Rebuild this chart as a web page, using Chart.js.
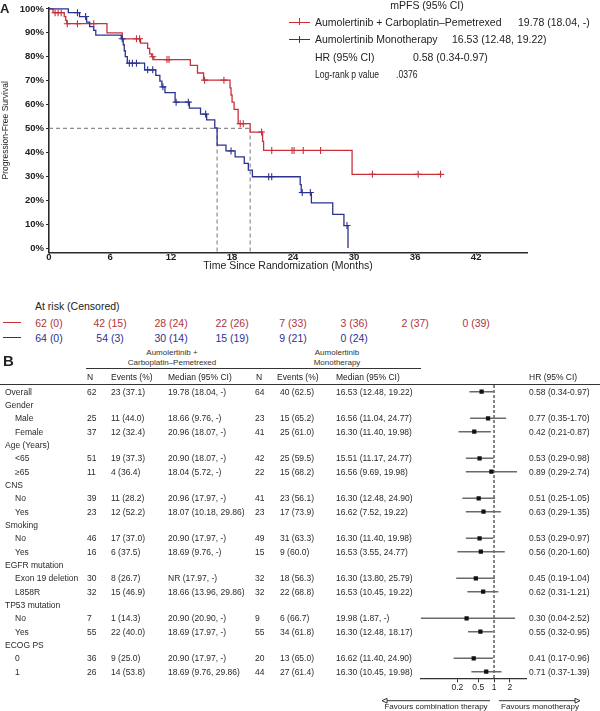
<!DOCTYPE html>
<html><head><meta charset="utf-8">
<script src="https://cdn.jsdelivr.net/npm/chart.js@4.4.1/dist/chart.umd.min.js"></script>
<style>
html,body{margin:0;padding:0;background:#fff;}
body{width:600px;height:711px;position:relative;overflow:hidden;font-family:"Liberation Sans",Arial,sans-serif;color:#222;}
.t{position:absolute;white-space:nowrap;line-height:1;transform:translateY(-50%);}
.c{transform:translate(-50%,-50%);}
#wa{position:absolute;left:0;top:0;width:600px;height:274px;}
#wb{position:absolute;left:0;top:380px;width:600px;height:331px;}
.hl{position:absolute;height:0;border-top:1.2px solid #333;}
.mk{position:absolute;width:21px;height:0;border-top:1.4px solid;}
.mk i{position:absolute;left:10px;top:-4.2px;height:7px;width:0;border-left:1.4px solid;}
</style></head><body>
<div id="wa"><canvas id="km"></canvas></div>
<div id="wb"><canvas id="fp"></canvas></div>
<div id="txt"></div>
<script>
// ---------- Panel A data ----------
const RED = '#c8313a', BLUE = '#2c3290';
const redTimes = [0, 0.4, 1.5, 1.65, 1.75, 5.7, 7.2, 9.0, 9.7, 9.9, 10.1, 10.3, 13.9, 14.6, 15.2, 17.8, 17.9, 18.0, 18.2, 18.6, 19.78, 21.0, 21.1, 29.8, 38.5];
const redSurv  = [100, 98.4, 96.8, 95.2, 93.8, 90.0, 87.5, 85.7, 83.5, 81.2, 80.0, 78.8, 76.4, 73.2, 70.2, 67.0, 64.0, 61.0, 58.0, 52.0, 48.5, 44.6, 40.8, 30.8, 30.8];
const redCensor = [0.6, 0.9, 1.2, 1.8, 2.8, 4.4, 8.6, 8.9, 10.2, 11.6, 11.8, 15.3, 17.2, 18.8, 19.1, 20.9, 21.9, 23.9, 24.1, 25.0, 26.7, 31.8, 36.3, 38.5];
const blueTimes = [0, 1.9, 3.0, 3.7, 4.0, 4.4, 4.6, 7.1, 7.3, 7.4, 7.5, 7.7, 9.4, 10.5, 10.9, 11.1, 11.4, 12.4, 13.8, 14.9, 15.5, 16.3, 16.53, 17.4, 18.3, 19.2, 19.6, 20.0, 24.7, 24.8, 25.8, 27.9, 29.0, 29.4];
const blueSurv  = [100, 98.4, 96.8, 94.5, 92.6, 91.0, 89.0, 87.5, 85.0, 82.5, 80.0, 77.3, 74.5, 72.2, 69.8, 67.4, 65.0, 61.0, 58.5, 56.0, 53.6, 50.2, 43.0, 40.6, 38.1, 35.4, 32.6, 29.8, 26.5, 23.2, 18.9, 14.1, 9.4, 0];
const blueCensor = [2.8, 3.6, 7.2, 7.9, 8.2, 8.6, 9.7, 10.2, 11.2, 12.5, 13.7, 15.4, 17.9, 21.6, 21.9, 24.9, 25.7, 29.3];
const medians = [19.78, 16.53];
const xTicks = [0, 6, 12, 18, 24, 30, 36, 42];
const yTicks = [0, 10, 20, 30, 40, 50, 60, 70, 80, 90, 100];
const legendLabels = ['Aumolertinib + Carboplatin\u2013Pemetrexed', 'Aumolertinib Monotherapy'];
const legendMedians = ['19.78 (18.04, -)', '16.53 (12.48, 19.22)'];
const hrOverallText = '0.58 (0.34-0.97)';
const pValueText = '.0376';
const riskRed = [62, 42, 28, 22, 7, 3, 2, 0];
const censRed = [0, 15, 24, 26, 33, 36, 37, 39];
const riskBlue = [64, 54, 30, 15, 9, 0];
const censBlue = [0, 3, 14, 19, 21, 24];

// ---------- Panel B data ----------
const rowLabels = ['Overall','Gender','Male','Female','Age (Years)','<65','\u226565','CNS','No','Yes','Smoking','No','Yes','EGFR mutation','Exon 19 deletion','L858R','TP53 mutation','No','Yes','ECOG PS','0','1'];
const rowIndent = [0,0,1,1,0,1,1,0,1,1,0,1,1,0,1,1,0,1,1,0,1,1];
const comboN = [62,null,25,37,null,51,11,null,39,23,null,46,16,null,30,32,null,7,55,null,36,26];
const comboEv = ['23 (37.1)',null,'11 (44.0)','12 (32.4)',null,'19 (37.3)','4 (36.4)',null,'11 (28.2)','12 (52.2)',null,'17 (37.0)','6 (37.5)',null,'8 (26.7)','15 (46.9)',null,'1 (14.3)','22 (40.0)',null,'9 (25.0)','14 (53.8)'];
const comboMed = ['19.78 (18.04, -)',null,'18.66 (9.76, -)','20.96 (18.07, -)',null,'20.90 (18.07, -)','18.04 (5.72, -)',null,'20.96 (17.97, -)','18.07 (10.18, 29.86)',null,'20.90 (17.97, -)','18.69 (9.76, -)',null,'NR (17.97, -)','18.66 (13.96, 29.86)',null,'20.90 (20.90, -)','18.69 (17.97, -)',null,'20.90 (17.97, -)','18.69 (9.76, 29.86)'];
const monoN = [64,null,23,41,null,42,22,null,41,23,null,49,15,null,32,32,null,9,55,null,20,44];
const monoEv = ['40 (62.5)',null,'15 (65.2)','25 (61.0)',null,'25 (59.5)','15 (68.2)',null,'23 (56.1)','17 (73.9)',null,'31 (63.3)','9 (60.0)',null,'18 (56.3)','22 (68.8)',null,'6 (66.7)','34 (61.8)',null,'13 (65.0)','27 (61.4)'];
const monoMed = ['16.53 (12.48, 19.22)',null,'16.56 (11.04, 24.77)','16.30 (11.40, 19.98)',null,'15.51 (11.17, 24.77)','16.56 (9.69, 19.98)',null,'16.30 (12.48, 24.90)','16.62 (7.52, 19.22)',null,'16.30 (11.40, 19.98)','16.53 (3.55, 24.77)',null,'16.30 (13.80, 25.79)','16.53 (10.45, 19.22)',null,'19.98 (1.87, -)','16.30 (12.48, 18.17)',null,'16.62 (11.40, 24.90)','16.30 (10.45, 19.98)'];
const hr   = [0.58,null,0.77,0.42,null,0.53,0.89,null,0.51,0.63,null,0.53,0.56,null,0.45,0.62,null,0.30,0.55,null,0.41,0.71];
const hrLo = [0.34,null,0.35,0.21,null,0.29,0.29,null,0.25,0.29,null,0.29,0.20,null,0.19,0.31,null,0.04,0.32,null,0.17,0.37];
const hrHi = [0.97,null,1.70,0.87,null,0.98,2.74,null,1.05,1.35,null,0.97,1.60,null,1.04,1.21,null,2.52,0.95,null,0.96,1.39];
const fpTicks = [0.2, 0.5, 1, 2];

Chart.defaults.font.family = '"Liberation Sans", Arial, sans-serif';
Chart.defaults.color = '#222';

function kmPoints(times, surv){ return times.map((t,i)=>({x:t, y:surv[i]})); }
function stepAt(times, surv, t){ let v = surv[0]; for (let i=0;i<times.length;i++){ if (times[i] <= t) v = surv[i]; } return v; }
function censorPoints(ct, times, surv){ return ct.map(t=>({x:t, y:stepAt(times, surv, t)})); }

const Y_MIN = -2;
const dashStyle = {borderColor:'#8c8c8c', borderDash:[4,3], borderWidth:1.2, pointRadius:0, fill:false, order:5};

const km = new Chart(document.getElementById('km'), {
  type:'line',
  data:{datasets:[
    Object.assign({data:[{x:0,y:50},{x:medians[0],y:50}]}, dashStyle),
    Object.assign({data:[{x:medians[1],y:50},{x:medians[1],y:Y_MIN}]}, dashStyle),
    Object.assign({data:[{x:medians[0],y:50},{x:medians[0],y:Y_MIN}]}, dashStyle),
    {data:kmPoints(redTimes, redSurv), stepped:true, borderColor:RED, borderWidth:1.3, pointRadius:0, fill:false, order:3},
    {data:kmPoints(blueTimes, blueSurv), stepped:true, borderColor:BLUE, borderWidth:1.3, pointRadius:0, fill:false, order:2},
    {data:censorPoints(redCensor, redTimes, redSurv), showLine:false, pointStyle:'cross', pointRadius:3.5, borderColor:RED, borderWidth:1.1, order:1},
    {data:censorPoints(blueCensor, blueTimes, blueSurv), showLine:false, pointStyle:'cross', pointRadius:3.5, borderColor:BLUE, borderWidth:1.1, order:0}
  ]},
  options:{
    animation:false, responsive:true, maintainAspectRatio:false,
    layout:{padding:{top:6.8, right:73, left:0, bottom:0}},
    plugins:{legend:{display:false}, tooltip:{enabled:false}},
    elements:{line:{tension:0}},
    scales:{
      x:{type:'linear', min:0, max:47,
        afterBuildTicks:s=>{s.ticks = xTicks.map(v=>({value:v}));},
        afterFit:s=>{s.height = 21.2;},
        border:{color:'#2a2a2a', width:1.6},
        grid:{drawOnChartArea:false, tickLength:2, color:'#2a2a2a'},
        ticks:{font:{size:9.5, weight:'bold'}, color:'#222', padding:-3.5, maxRotation:0, autoSkip:false},
        title:{display:true, text:'Time Since Randomization (Months)', font:{size:10.5}, color:'#222', padding:{top:0, bottom:1.5}}
      },
      y:{type:'linear', min:Y_MIN, max:100.5,
        afterBuildTicks:s=>{s.ticks = yTicks.map(v=>({value:v}));},
        afterFit:s=>{s.width = 49;},
        border:{color:'#2a2a2a', width:1.6},
        grid:{drawOnChartArea:false, tickLength:3, color:'#2a2a2a'},
        ticks:{callback:v=>v+'%', font:{size:9.5, weight:'bold'}, color:'#222', padding:2, autoSkip:false},
        title:{display:true, text:'Progression-Free Survival', font:{size:8.5}, color:'#222', padding:{top:1, bottom:0}}
      }
    }
  }
});

// ---------- Forest plot ----------
const ciSets = [];
hr.forEach((h,i)=>{ if (h!==null) ciSets.push({data:[{x:hrLo[i],y:i},{x:hrHi[i],y:i}], borderColor:'#6a6a6a', borderWidth:1.5, pointRadius:0, fill:false, order:2}); });
const squares = [];
hr.forEach((h,i)=>{ if (h!==null) squares.push({x:h, y:i}); });

const arrowPlugin = {
  id:'arrows',
  afterDraw(c){
    const ctx = c.ctx, x1 = c.scales.x.getPixelForValue(1), y = c.chartArea.bottom + 22.4;
    ctx.save(); ctx.strokeStyle = '#333'; ctx.lineWidth = 1; ctx.fillStyle = '#fff';
    const head = (tip, dir)=>{ ctx.beginPath(); ctx.moveTo(tip, y); ctx.lineTo(tip - dir*5, y-2.4); ctx.lineTo(tip - dir*5, y+2.4); ctx.closePath(); ctx.fill(); ctx.stroke(); };
    ctx.beginPath(); ctx.moveTo(x1-4, y); ctx.lineTo(x1-107, y); ctx.stroke(); head(x1-112, -1);
    ctx.beginPath(); ctx.moveTo(x1+5, y); ctx.lineTo(x1+81, y); ctx.stroke(); head(x1+86, 1);
    ctx.restore();
  }
};

const fp = new Chart(document.getElementById('fp'), {
  type:'line',
  data:{datasets:[
    {data:[{x:1,y:-0.5},{x:1,y:21.5}], borderColor:'#333', borderDash:[3,2], borderWidth:1.2, pointRadius:0, fill:false, order:3},
    ...ciSets,
    {data:squares, showLine:false, pointStyle:'rect', pointRadius:3, backgroundColor:'#111', borderColor:'#111', borderWidth:0, order:0}
  ]},
  options:{
    animation:false, responsive:true, maintainAspectRatio:false,
    layout:{padding:{top:5, left:420.7, right:74, bottom:0}},
    plugins:{legend:{display:false}, tooltip:{enabled:false}},
    scales:{
      x:{type:'logarithmic', min:0.04, max:4.07,
        afterBuildTicks:s=>{s.ticks = fpTicks.map(v=>({value:v}));},
        afterFit:s=>{s.height = 32.7;},
        border:{color:'#333', width:1.2},
        grid:{drawOnChartArea:false, tickLength:4, color:'#333'},
        ticks:{callback:v=>String(v), font:{size:8.5}, color:'#222', padding:0, maxRotation:0, autoSkip:false}
      },
      y:{type:'linear', display:false, min:-0.5, max:21.5, reverse:true}
    }
  },
  plugins:[arrowPlugin]
});

// ---------- Text ----------
const txt = document.getElementById('txt');
function put(text, x, y, size, opts){
  opts = opts || {};
  const d = document.createElement('div');
  d.className = 't' + (opts.center ? ' c' : '');
  d.textContent = text;
  d.style.left = x + 'px'; d.style.top = y + 'px'; d.style.fontSize = size + 'px';
  if (opts.color) d.style.color = opts.color;
  if (opts.bold) d.style.fontWeight = 'bold';
  if (opts.narrow) { d.style.transformOrigin = '0 50%'; d.style.transform = 'translateY(-50%) scaleX(0.82)'; }
  txt.appendChild(d); return d;
}
function hline(x1, x2, y, w){ const d = document.createElement('div'); d.className='hl'; d.style.left=x1+'px'; d.style.width=(x2-x1)+'px'; d.style.top=y+'px'; if (w) d.style.borderTopWidth = w+'px'; txt.appendChild(d); }
function marker(x, y, color){ const d = document.createElement('div'); d.className='mk'; d.style.left=x+'px'; d.style.top=y+'px'; d.style.borderTopColor=color; const i=document.createElement('i'); i.style.borderLeftColor=color; d.appendChild(i); txt.appendChild(d); }

// Panel labels
put('A', 0, 8, 13, {bold:true});
put('B', 3, 360, 15, {bold:true});

// Legend
put('mPFS (95% CI)', 427, 5, 10.5, {center:true});
marker(289, 21.5, RED); marker(289, 38.8, BLUE);
put(legendLabels[0], 315, 21.7, 10.5);
put(legendMedians[0], 518, 21.7, 10.5);
put(legendLabels[1], 315, 39, 10.5);
put(legendMedians[1], 452, 39, 10.5);
put('HR (95% CI)', 315, 56.7, 10.5);
put(hrOverallText, 413, 56.7, 10.5);
put('Log-rank p value', 315, 74, 10.5, {narrow:true});
put(pValueText, 396, 74, 10.5, {narrow:true});

// At risk table, positioned on the KM x scale
put('At risk (Censored)', 35, 305.7, 10.5);
hline(3, 21, 322, 1.5); txt.lastChild.style.borderTopColor = RED;
hline(3, 21, 337, 1.5); txt.lastChild.style.borderTopColor = BLUE;
const xs = km.scales.x;
riskRed.forEach((n,i)=>put(n+' ('+censRed[i]+')', xs.getPixelForValue(xTicks[i]), 322.7, 10.5, {center:true, color:'#b0343a'}));
riskBlue.forEach((n,i)=>put(n+' ('+censBlue[i]+')', xs.getPixelForValue(xTicks[i]), 337.7, 10.5, {center:true, color:'#2e3192'}));

// Forest table
const FS = 8.5, TOP = 380;
put('Aumolertinib +', 172, 352.7, 8, {center:true, color:'#333'});
put('Carboplatin\u2013Pemetrexed', 172, 362.7, 8, {center:true, color:'#333'});
put('Aumolertinib', 337, 352.7, 8, {center:true, color:'#333'});
put('Monotherapy', 337, 362.7, 8, {center:true, color:'#333'});
hline(86, 421, 368, 1.3);
hline(0, 600, 384, 1.1);
const hy = 376.7;
put('N', 87, hy, FS); put('Events (%)', 111, hy, FS); put('Median (95% CI)', 168, hy, FS);
put('N', 256, hy, FS); put('Events (%)', 277, hy, FS); put('Median (95% CI)', 336, hy, FS);
put('HR (95% CI)', 529, hy, FS);
const ys = fp.scales.y;
rowLabels.forEach((lab,i)=>{
  const y = TOP + ys.getPixelForValue(i);
  put(lab, rowIndent[i] ? 15 : 5, y, FS, {color:'#2a2a2a'});
  if (comboN[i] !== null) {
    put(String(comboN[i]), 87, y, FS, {color:'#2a2a2a'});
    put(comboEv[i], 111, y, FS, {color:'#2a2a2a'});
    put(comboMed[i], 168, y, FS, {color:'#2a2a2a'});
    put(String(monoN[i]), 255, y, FS, {color:'#2a2a2a'});
    put(monoEv[i], 280, y, FS, {color:'#2a2a2a'});
    put(monoMed[i], 336, y, FS, {color:'#2a2a2a'});
    put(hr[i].toFixed(2)+' ('+hrLo[i].toFixed(2)+'-'+hrHi[i].toFixed(2)+')', 529, y, FS, {color:'#2a2a2a'});
  }
});
const x1 = fp.scales.x.getPixelForValue(1);
put('Favours combination therapy', x1-58, 706.7, 8, {center:true});
put('Favours monotherapy', x1+46, 706.7, 8, {center:true});
</script></body></html>
